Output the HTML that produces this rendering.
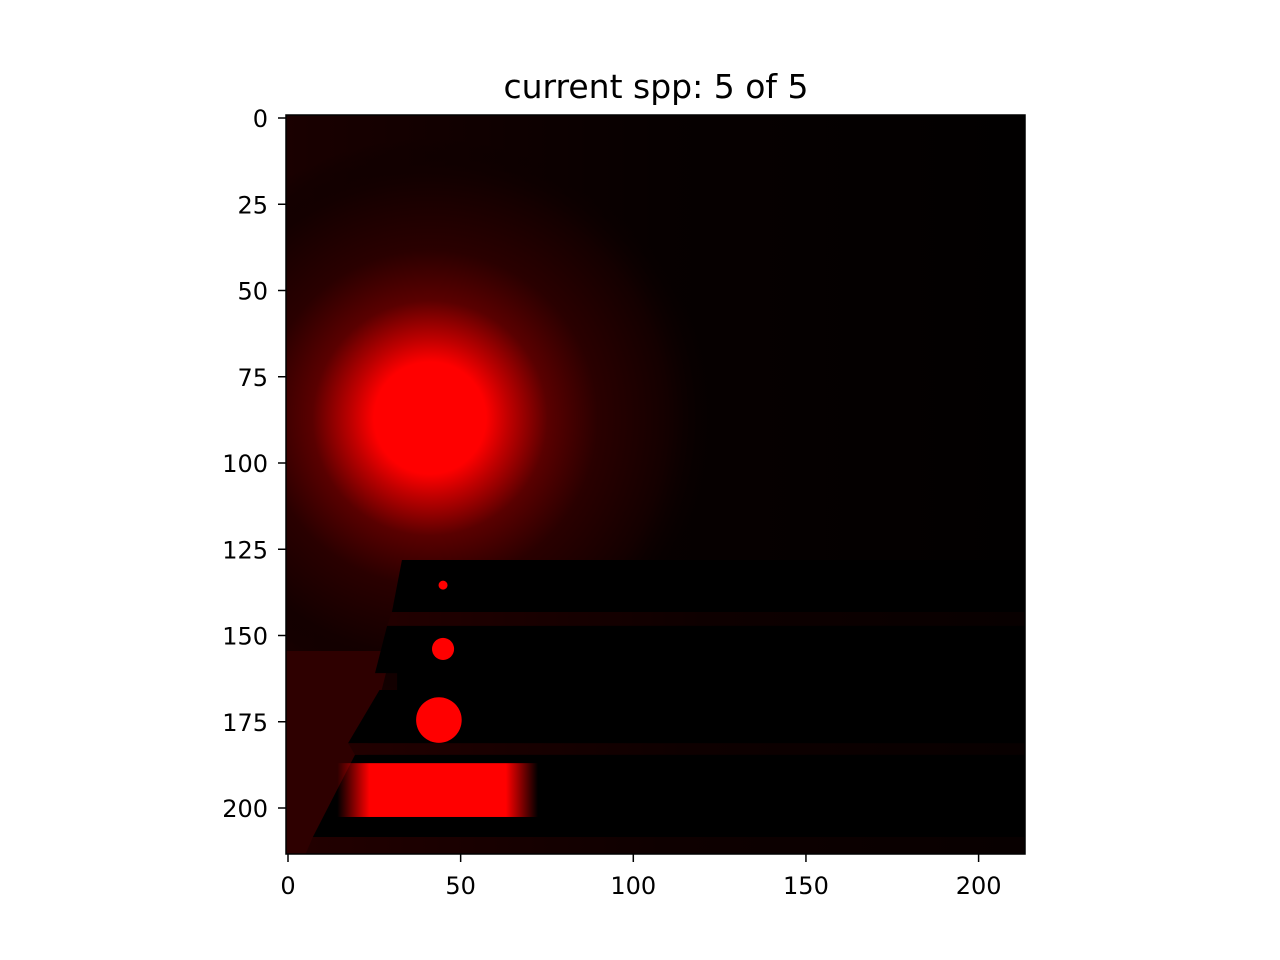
<!DOCTYPE html>
<html><head><meta charset="utf-8"><style>
html,body{margin:0;padding:0;background:#fff;width:1280px;height:960px;overflow:hidden}
text{font-family:"DejaVu Sans","Liberation Sans",sans-serif;fill:#000}
</style></head><body>
<svg id="chart" width="1280" height="960" viewBox="0 0 1280 960" xmlns="http://www.w3.org/2000/svg">
<defs>
<radialGradient id="glow" gradientUnits="userSpaceOnUse" cx="430" cy="418" r="280">
<stop offset="0" stop-color="#ff0000"/>
<stop offset="0.2" stop-color="#ff0000"/>
<stop offset="0.28" stop-color="#c00000"/>
<stop offset="0.42" stop-color="#5a0000"/>
<stop offset="0.6" stop-color="#2a0000"/>
<stop offset="0.85" stop-color="#140000"/>
<stop offset="1" stop-color="#0a0000" stop-opacity="0"/>
</radialGradient>
<linearGradient id="bg" x1="0" y1="0" x2="1" y2="0">
<stop offset="0" stop-color="#1a0000"/>
<stop offset="0.5" stop-color="#070000"/>
<stop offset="1" stop-color="#020000"/>
</linearGradient>
<linearGradient id="gapgrad" x1="0" y1="0" x2="1" y2="0">
<stop offset="0" stop-color="#220000"/>
<stop offset="0.5" stop-color="#0e0000"/>
<stop offset="1" stop-color="#080000"/>
</linearGradient>
<linearGradient id="bright" x1="0" y1="0" x2="1" y2="0">
<stop offset="0" stop-color="#ff0000" stop-opacity="0"/>
<stop offset="0.16" stop-color="#ff0000" stop-opacity="1"/>
<stop offset="0.84" stop-color="#ff0000" stop-opacity="1"/>
<stop offset="1" stop-color="#ff0000" stop-opacity="0"/>
</linearGradient>
<clipPath id="axclip"><rect x="286" y="115" width="739" height="739"/></clipPath>
</defs>
<text x="656" y="98" font-size="33" text-anchor="middle">current spp: 5 of 5</text>
<g id="image" clip-path="url(#axclip)"></g>
<rect x="286" y="115" width="739" height="739" fill="none" stroke="#000" stroke-width="1.5"/>
<g id="xaxis"></g>
<g id="yaxis"></g>
</svg>
<script>
const xTicks=[0,50,100,150,200];
const yTicks=[0,25,50,75,100,125,150,175,200];
// scene geometry in image-pixel (data) units
const glowCenter=[41.1,87];
const stripe1=[[33.0,128.1],[213.5,128.1],[213.5,143.2],[30.1,143.2]];
const stripe2=[[28.7,147.2],[213.5,147.2],[213.5,181.2],[17.4,181.2],[26.5,165.8],[31.6,165.8],[31.6,160.9],[25.2,160.9]];
const stripe4=[[19.4,184.6],[213.5,184.6],[213.5,208.4],[7.2,208.4]];
const lowerLeft=[[-0.5,154.5],[30,154.5],[15,213.5],[-0.5,213.5]];
const gap1=[[30.1,143.2],[213.5,143.2],[213.5,147.2],[28.7,147.2]];
const gap2=[[17.4,181.2],[213.5,181.2],[213.5,184.6],[19.4,184.6]];
const gap3=[[7.2,208.4],[213.5,208.4],[213.5,213.5],[5,213.5]];
const balls=[[44.9,135.4,1.3],[44.9,153.9,3.2],[43.7,174.5,6.6]];
const brightBand=[14.3,187,72.4,202.6];
const SX=3.453,SY=3.45,X0=288,Y0=118;
const sx=d=>X0+d*SX, sy=d=>Y0+d*SY;
const NS='http://www.w3.org/2000/svg';
const img=document.getElementById('image');
function mk(tag,attrs,parent){const e=document.createElementNS(NS,tag);for(const k in attrs)e.setAttribute(k,attrs[k]);parent.appendChild(e);return e;}
function pts(a){return a.map(p=>sx(p[0])+','+sy(p[1])).join(' ');}
let e;
e=mk('rect',{x:280,y:110,width:750,height:750,fill:'url(#bg)'},img);


e=mk('circle',{cx:sx(glowCenter[0]),cy:sy(glowCenter[1]),r:280,fill:'url(#glow)'},img);


e=mk('polygon',{points:pts(lowerLeft),fill:'#2e0000'},img);


[gap1,gap2,gap3].forEach((g,i)=>{
 e=mk('polygon',{points:pts(g),fill:'url(#gapgrad)'},img);
 
 
});
[stripe1,stripe2,stripe4].forEach((s,i)=>{
 e=mk('polygon',{points:pts(s),fill:'#000'},img);
 
 
});
e=mk('rect',{x:sx(brightBand[0]),y:sy(brightBand[1]),width:(brightBand[2]-brightBand[0])*SX,height:(brightBand[3]-brightBand[1])*SY,fill:'url(#bright)'},img);


balls.forEach((b,i)=>{
 e=mk('circle',{cx:sx(b[0]),cy:sy(b[1]),r:b[2]*SX,fill:'#ff0000'},img);
 
 
});
const xa=document.getElementById('xaxis'),ya=document.getElementById('yaxis');
xTicks.forEach(t=>{
 e=mk('line',{x1:sx(t),x2:sx(t),y1:854,y2:862,stroke:'#000','stroke-width':1.5},xa);
 
 
 e=mk('text',{x:sx(t),y:894,'font-size':24,'text-anchor':'middle'},xa);e.textContent=t;
 
 
});
yTicks.forEach(t=>{
 e=mk('line',{x1:278,x2:286,y1:sy(t),y2:sy(t),stroke:'#000','stroke-width':1.5},ya);
 
 
 e=mk('text',{x:268,y:sy(t)+9,'font-size':24,'text-anchor':'end'},ya);e.textContent=t;
 
 
});
</script>
</body></html>
